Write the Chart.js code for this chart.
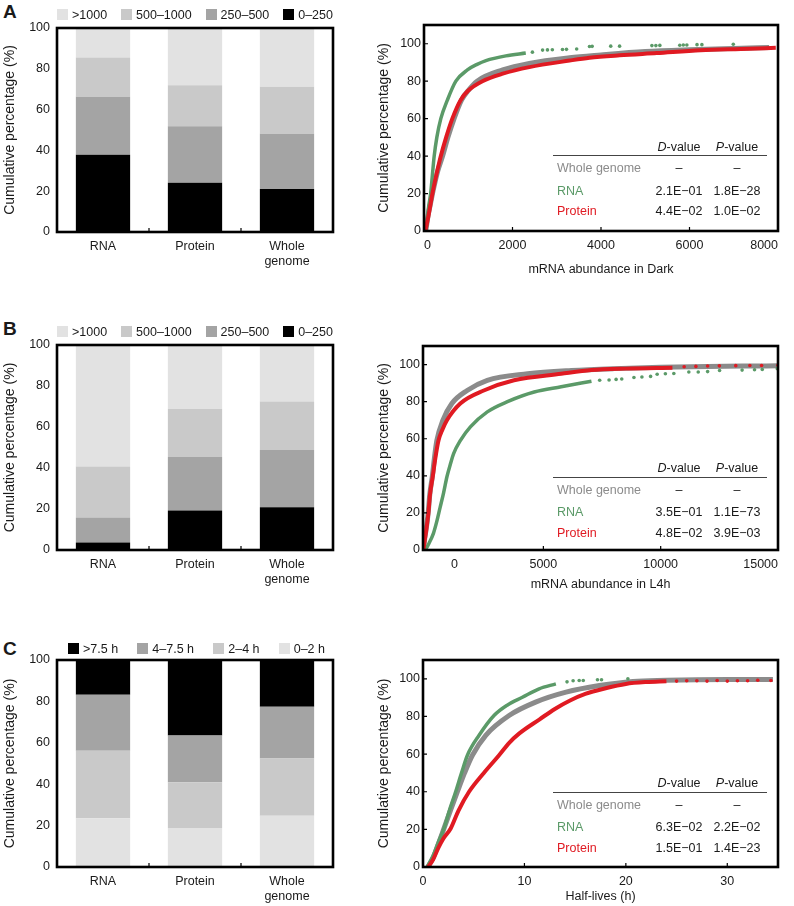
<!DOCTYPE html>
<html>
<head>
<meta charset="utf-8">
<script src="https://cdn.jsdelivr.net/npm/chart.js@4.4.1/dist/chart.umd.min.js"></script>
<style>
  body { margin: 0; width: 794px; height: 906px; background: #fff; position: relative; overflow: hidden;
         font-family: "Liberation Sans", Arial, sans-serif; color: #1a1a1a; }
  .box { position: absolute; }
  .letter { position: absolute; font-weight: bold; font-size: 19px; line-height: 19px; }
  .legend { position: absolute; display: flex; justify-content: space-between; font-size: 12.5px; line-height: 14px; }
  .legend .sw { display: inline-block; width: 11px; height: 11px; margin-right: 4px; vertical-align: -1px; }
  .tbl { position: absolute; width: 214px; height: 80px; font-size: 12.5px; }
  .tbl div { position: absolute; line-height: 14px; white-space: nowrap; }
  .tbl .rule { height: 0; border-top: 1.3px solid #444; width: 214px; left: 0; }
</style>
</head>
<body>
<div class="letter" style="left:3px;top:2px">A</div>
<div class="letter" style="left:3px;top:319px">B</div>
<div class="letter" style="left:3px;top:639px">C</div>

<div class="box" style="left:0;top:0;width:345px;height:275px"><canvas id="barA"></canvas></div>
<div class="box" style="left:0;top:317px;width:345px;height:276px"><canvas id="barB"></canvas></div>
<div class="box" style="left:0;top:632px;width:345px;height:278px"><canvas id="barC"></canvas></div>
<div class="box" style="left:370px;top:10px;width:424px;height:269px"><canvas id="cdfA"></canvas></div>
<div class="box" style="left:370px;top:331px;width:424px;height:263px"><canvas id="cdfB"></canvas></div>
<div class="box" style="left:370px;top:645px;width:424px;height:261px"><canvas id="cdfC"></canvas></div>

<script>
// ---- bar panels: share of genes per bin (bottom bin first), % ----
const barCategories = ['RNA', 'Protein', ['Whole', 'genome']];
const abundanceBins = ['0–250', '250–500', '500–1000', '>1000'];
const halfLifeBins = ['0–2 h', '2–4 h', '4–7.5 h', '>7.5 h'];

const darkRNA = [37.9, 28.4, 19.3, 14.4];
const darkProtein = [24.2, 27.6, 20.1, 28.1];
const darkWhole = [21.1, 27.1, 23.0, 28.8];

const l4hRNA = [3.7, 12.2, 24.8, 59.3];
const l4hProtein = [19.3, 26.1, 23.4, 31.2];
const l4hWhole = [20.8, 28.0, 23.7, 27.5];

const hlRNA = [23.5, 32.6, 27.1, 16.8];
const hlProtein = [18.9, 22.1, 22.5, 36.5];
const hlWhole = [24.7, 27.7, 25.0, 22.6];

// ---- cumulative curves [x, cumulative %] ----
const darkWholeCurve = [[40,0],[90,8],[150,15],[210,22],[310,32],[420,40],[540,50],[680,60],[850,70],[1000,75],[1200,80],[1780,86],[2380,89.5],[3290,92.5],[4000,94],[5000,95.8],[6000,96.8],[7000,97.5],[7800,98]];
const darkProteinCurve = [[30,0],[100,8],[190,20],[280,30],[380,40],[500,50],[640,60],[830,70],[1000,75],[1320,80],[1780,84],[2380,87.5],[3290,91],[3740,92.5],[4420,93.8],[5260,95],[6250,96.5],[7160,97.2],[7950,97.8]];
const darkRNACurve = [[40,0],[70,5],[100,12],[150,20],[190,30],[230,40],[290,50],[380,60],[530,70],[720,80],[980,86],[1200,89],[1400,91],[1850,93.5],[2300,95]];
const darkRNATail = [[2450,95.5],[2680,96.6],[2790,96.7],[2900,96.8],[3130,96.9],[3220,97],[3450,97.2],[3740,98.5],[3800,98.6],[4220,98.7],[4420,98.7],[5150,99],[5240,99],[5330,99.1],[5780,99.2],[5860,99.3],[5940,99.3],[6170,99.5],[6280,99.5],[6990,99.7]];

const l4hWholeCurve = [[-110,0],[-60,6],[-10,10],[90,20],[160,30],[270,40],[360,50],[460,59],[720,70],[1100,79],[1750,86],[2610,91.5],[4330,95],[6190,96.8],[8000,97.8],[10000,98.5],[12000,99],[13500,99.2],[15000,99.3]];
const l4hProteinCurve = [[-115,0],[-60,5],[-10,9],[100,20],[170,30],[290,40],[390,49],[530,59],[700,65],[890,70],[1460,79],[2460,86],[3750,91.5],[5760,95],[7050,97],[8500,97.8],[10500,98.3]];
const l4hProteinTail = [[11000,98.8],[11500,99],[12000,99.2],[12500,99.3],[13200,99.4],[13800,99.5],[14300,99.5],[15000,99.6]];
const l4hRNACurve = [[-30,0],[100,3],[315,9],[450,15],[600,23],[750,31],[890,39.5],[1030,46],[1175,52],[1460,59],[1890,66.4],[2610,74.5],[3470,80],[4610,85.2],[5760,88],[7050,91]];
const l4hRNATail = [[7400,91.5],[7800,91.7],[8100,92],[8340,92.2],[8860,93],[9200,93.3],[9570,93.6],[9850,94.8],[10200,95],[10560,95.2],[11200,96],[11600,96],[12000,96.2],[12510,96.8],[13470,97],[14000,97.2],[14330,97.3],[14970,97.8]];

const hlWholeCurve = [[0.5,0],[1,5],[1.5,12],[2.07,20.5],[2.7,30],[3.39,40],[4.1,50],[4.87,59.4],[6.19,70],[8.49,80.5],[11.1,87.6],[14.1,92.9],[17.4,96.4],[20.7,98.6],[24,99.2],[27,99.5],[30,99.6],[34.5,99.6]];
const hlRNACurve = [[0.4,0],[1,6],[1.5,13],[2.07,20.5],[2.6,30],[3.22,40],[3.8,50],[4.38,59.4],[5.53,70],[7.0,80.5],[8.3,86],[9.8,90.2],[11.45,94.7],[13.1,97.3]];
const hlRNATail = [[14.2,98.4],[14.8,99],[15.4,99.1],[15.8,99.1],[17.2,99.5],[17.6,99.5],[20.2,100]];
const hlProteinCurve = [[0.5,0],[1,4],[1.5,10],[2,15],[2.73,20.5],[3.5,30],[4.54,40],[6,50],[7.5,59.4],[8.5,66],[9.5,71],[11.5,78.5],[13,84],[14.5,88.5],[16,92],[18,95],[20,97.3],[22,98.3],[24,98.7]];
const hlProteinTail = [[25,98.8],[26,99],[27,99],[28,98.8],[29,99.1],[30,98.8],[31,99],[32,99],[33,99.2],[34.3,99.1]];

// x tick labels of the L4h panel as printed
const l4hTickValues = [1060, 5000, 10000, 15000];
const l4hTickLabels = ['0', '5000', '10000', '15000'];

// K-S test tables: [D-value, P-value] for Whole genome, RNA, Protein
const statRows = ['Whole genome', 'RNA', 'Protein'];
const darkStats = [['–', '–'], ['2.1E−01', '1.8E−28'], ['4.4E−02', '1.0E−02']];
const l4hStats = [['–', '–'], ['3.5E−01', '1.1E−73'], ['4.8E−02', '3.9E−03']];
const hlStats = [['–', '–'], ['6.3E−02', '2.2E−02'], ['1.5E−01', '1.4E−23']];

const GREEN = '#5b9a68', RED = '#e01a22', GRAY = '#8b8b8b';
const binColors = ['#000000', '#a4a4a4', '#c9c9c9', '#e2e2e2'];
const hlColors = ['#e2e2e2', '#c9c9c9', '#a4a4a4', '#000000'];

Chart.defaults.font.family = '"Liberation Sans", Arial, sans-serif';
Chart.defaults.color = '#1a1a1a';
Chart.defaults.animation = false;

const framePlugin = {
  id: 'frame',
  afterDraw(chart) {
    const { ctx, chartArea: a, scales } = chart;
    ctx.save();
    ctx.strokeStyle = '#000';
    ctx.lineWidth = 1.2;
    ctx.beginPath();
    const xs = scales.x, ys = scales.y;
    if (xs.type === 'category') {
      for (let i = 1; i < xs.ticks.length; i++) {
        const px = (xs.getPixelForTick(i - 1) + xs.getPixelForTick(i)) / 2;
        ctx.moveTo(px, a.bottom); ctx.lineTo(px, a.bottom - 4);
      }
    } else {
      xs.ticks.forEach((t, i) => {
        const px = xs.getPixelForTick(i);
        if (t.label === '0' || px < a.left + 3 || px > a.right - 3) return;
        ctx.moveTo(px, a.bottom); ctx.lineTo(px, a.bottom - 4);
      });
      ys.ticks.forEach((t, i) => {
        const py = ys.getPixelForTick(i);
        if (py > a.bottom - 3 || py < a.top + 3) return;
        ctx.moveTo(a.left, py); ctx.lineTo(a.left + 4, py);
      });
    }
    ctx.stroke();
    ctx.lineWidth = 2.6;
    ctx.strokeRect(a.left, a.top, a.width, a.height);
    ctx.restore();
  }
};

// keep label overhang from shrinking the plot
const noOverhang = s => { s.paddingLeft = 0; s.paddingRight = 0; s.paddingTop = 0; s.paddingBottom = 0; };

function barChart(id, bins, rna, protein, whole, colors) {
  new Chart(document.getElementById(id), {
    type: 'bar',
    data: {
      labels: barCategories,
      datasets: bins.map((b, i) => ({
        label: b,
        data: [rna[i], protein[i], whole[i]],
        backgroundColor: colors[i],
        barPercentage: 0.59,
        categoryPercentage: 1
      }))
    },
    options: {
      responsive: true,
      maintainAspectRatio: false,
      layout: { padding: { top: 28, right: 12, left: 0, bottom: 0 } },
      plugins: { legend: { display: false }, tooltip: { enabled: false } },
      scales: {
        x: {
          stacked: true,
          grid: { display: false, drawTicks: false },
          border: { display: false },
          ticks: { font: { size: 12.5, lineHeight: 1.2 }, padding: 7, maxRotation: 0, autoSkip: false },
          afterFit: s => { s.height = 43; noOverhang(s); }
        },
        y: {
          stacked: true, min: 0, max: 100,
          grid: { display: false, drawTicks: false },
          border: { display: false },
          ticks: { stepSize: 20, font: { size: 12.5 }, padding: 7 },
          title: { display: true, text: 'Cumulative percentage (%)', font: { size: 14 }, padding: { top: 2, bottom: 0 } },
          afterFit: s => { s.width = 57; noOverhang(s); }
        }
      }
    },
    plugins: [framePlugin]
  });
}

function cdfChart(id, cfg) {
  const line = (data, color, w) => ({ data, showLine: true, borderColor: color, borderWidth: w, pointRadius: 0, cubicInterpolationMode: 'monotone' });
  const dots = (data, color) => ({ data, showLine: false, pointRadius: 1.8, pointBorderWidth: 0, pointBackgroundColor: color });
  const datasets = [line(cfg.protein, RED, 4)];
  if (cfg.proteinTail) datasets.push(dots(cfg.proteinTail, RED));
  datasets.push(line(cfg.rna, GREEN, 3.5));
  if (cfg.rnaTail) datasets.push(dots(cfg.rnaTail, GREEN));
  datasets.push(line(cfg.whole, GRAY, 5));
  new Chart(document.getElementById(id), {
    type: 'scatter',
    data: { datasets },
    options: {
      responsive: true,
      maintainAspectRatio: false,
      layout: { padding: { top: 15, right: 16, left: 0, bottom: 0 } },
      plugins: { legend: { display: false }, tooltip: { enabled: false } },
      scales: {
        x: {
          type: 'linear', min: cfg.xMin, max: cfg.xMax,
          grid: { display: false, drawTicks: false },
          border: { display: false },
          ticks: Object.assign({ font: { size: 12.5 }, padding: 7, stepSize: cfg.xStep, maxRotation: 0,
                                 align: cfg.xAlign || 'center',
                                 includeBounds: false, format: { useGrouping: false } },
                               cfg.xTickCallback ? { callback: cfg.xTickCallback } : {}),
          afterBuildTicks: cfg.xTickValues ? (s => { s.ticks = cfg.xTickValues.map(v => ({ value: v })); }) : undefined,
          title: { display: true, text: cfg.xTitle, font: { size: 12.5 }, padding: { top: 0, bottom: 1.5 } },
          afterFit: s => { s.height = cfg.xHeight; noOverhang(s); }
        },
        y: {
          min: 0, max: 110,
          grid: { display: false, drawTicks: false },
          border: { display: false },
          ticks: { stepSize: 20, includeBounds: false, font: { size: 12.5 }, padding: 3 },
          title: { display: true, text: 'Cumulative percentage (%)', font: { size: 14 }, padding: { top: 6, bottom: 0 } },
          afterFit: s => { s.width = cfg.yWidth; noOverhang(s); }
        }
      }
    },
    plugins: [framePlugin]
  });
}

function legend(left, top, width, bins, colors) {
  const el = document.createElement('div');
  el.className = 'legend';
  el.style.left = left + 'px'; el.style.top = top + 'px'; el.style.width = width + 'px';
  for (let i = bins.length - 1; i >= 0; i--) {
    const item = document.createElement('span');
    item.innerHTML = '<span class="sw" style="background:' + colors[i] + '"></span>' + bins[i];
    el.appendChild(item);
  }
  document.body.appendChild(el);
}

function statTable(top, stats) {
  const el = document.createElement('div');
  el.className = 'tbl';
  el.style.left = '553px'; el.style.top = (top - 7) + 'px';
  const put = (html, x, y, align, color) => {
    const d = document.createElement('div');
    d.innerHTML = html;
    d.style.top = y + 'px';
    d.style.color = color || '#1a1a1a';
    if (align === 'center') { d.style.left = (x - 40) + 'px'; d.style.width = '80px'; d.style.textAlign = 'center'; }
    else d.style.left = x + 'px';
    el.appendChild(d);
  };
  put('<i>D</i>-value', 126, 0, 'center');
  put('<i>P</i>-value', 184, 0, 'center');
  const rule = document.createElement('div');
  rule.className = 'rule'; rule.style.top = '15.5px';
  el.appendChild(rule);
  const rowY = [21.7, 44, 64.5], rowColors = [GRAY, GREEN, RED];
  statRows.forEach((name, r) => {
    put(name, 4, rowY[r], 'left', rowColors[r]);
    put(stats[r][0], 126, rowY[r], 'center');
    put(stats[r][1], 184, rowY[r], 'center');
  });
  document.body.appendChild(el);
}

barChart('barA', abundanceBins, darkRNA, darkProtein, darkWhole, binColors);
barChart('barB', abundanceBins, l4hRNA, l4hProtein, l4hWhole, binColors);
barChart('barC', halfLifeBins, hlRNA, hlProtein, hlWhole, hlColors);

cdfChart('cdfA', { protein: darkProteinCurve, rna: darkRNACurve, rnaTail: darkRNATail, whole: darkWholeCurve,
  xMin: 0, xMax: 8000, xStep: 2000, xAlign: 'inner', xTitle: 'mRNA abundance in Dark', xHeight: 48, yWidth: 54 });
cdfChart('cdfB', { protein: l4hProteinCurve, proteinTail: l4hProteinTail, rna: l4hRNACurve, rnaTail: l4hRNATail, whole: l4hWholeCurve,
  xMin: -130, xMax: 15000, xTickValues: l4hTickValues, xTickCallback: (v, i) => l4hTickLabels[i], xAlign: 'inner',
  xTitle: 'mRNA abundance in L4h', xHeight: 44, yWidth: 53 });
cdfChart('cdfC', { protein: hlProteinCurve, proteinTail: hlProteinTail, rna: hlRNACurve, rnaTail: hlRNATail, whole: hlWholeCurve,
  xMin: 0, xMax: 35, xStep: 10, xTitle: 'Half-lives (h)', xHeight: 39, yWidth: 53 });

legend(57, 8, 276, abundanceBins, binColors);
legend(57, 325, 276, abundanceBins, binColors);
legend(68, 642, 257, halfLifeBins, hlColors);

statTable(146.7, darkStats);
statTable(468.3, l4hStats);
statTable(783.3, hlStats);
</script>
</body>
</html>
